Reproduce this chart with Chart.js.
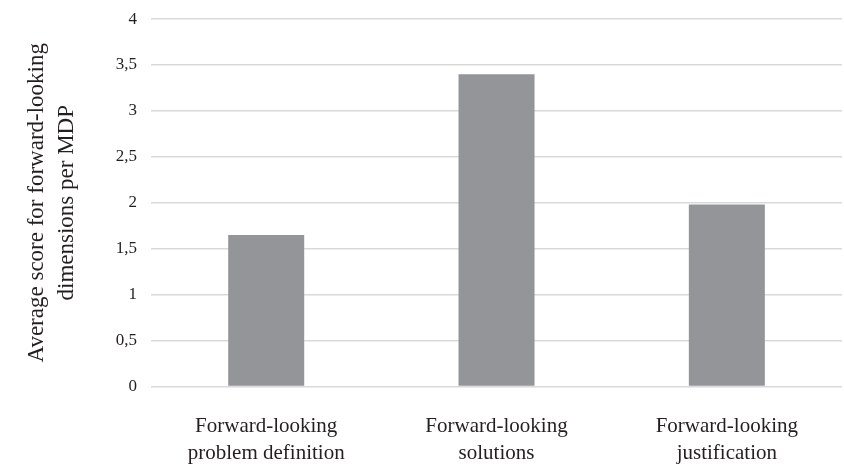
<!DOCTYPE html>
<html>
<head>
<meta charset="utf-8">
<script src="https://cdn.jsdelivr.net/npm/chart.js@4/dist/chart.umd.min.js"></script>
<style>
  html, body { margin: 0; padding: 0; background: #fff; }
  #wrap { width: 844px; height: 465px; position: relative; }
</style>
</head>
<body>
<div id="wrap"><canvas id="chart"></canvas></div>
<script>
  // 범주 / 값 / 축 눈금
  const categories = [
    ['Forward-looking', 'problem definition'],
    ['Forward-looking', 'solutions'],
    ['Forward-looking', 'justification']
  ];
  const scores = [1.65, 3.4, 1.98];
  const yTitle = ['Average score for forward-looking', 'dimensions per MDP'];

  const serif = '"Liberation Serif", "DejaVu Serif", serif';
  const text = '#231f20';

  new Chart(document.getElementById('chart'), {
    type: 'bar',
    data: {
      labels: categories,
      datasets: [{
        data: scores,
        backgroundColor: '#939598',
        borderWidth: 0,
        categoryPercentage: 1,
        barPercentage: 0.33
      }]
    },
    options: {
      responsive: true, maintainAspectRatio: false, animation: false,
      layout: { padding: { top: 17, right: 2, left: 22, bottom: -20 } },
      plugins: { legend: { display: false }, tooltip: { enabled: false } },
      scales: {
        x: {
          grid: { display: false },
          border: { display: false },
          ticks: { color: text, font: { family: serif, size: 21, lineHeight: 1.3 }, padding: 18 }
        },
        y: {
          min: 0, max: 4,
          border: { display: false },
          grid: { color: '#d9d9d9', lineWidth: 1.5, drawTicks: false },
          ticks: {
            stepSize: 0.5, padding: 14, color: text,
            font: { family: serif, size: 17, lineHeight: 0.6 },
            callback: v => String(v).replace('.', ',')
          },
          title: {
            display: true, text: yTitle, color: text,
            font: { family: serif, size: 23, lineHeight: 1.3 },
            padding: { top: 0, bottom: 20 }
          }
        }
      }
    }
  });
</script>
</body>
</html>
